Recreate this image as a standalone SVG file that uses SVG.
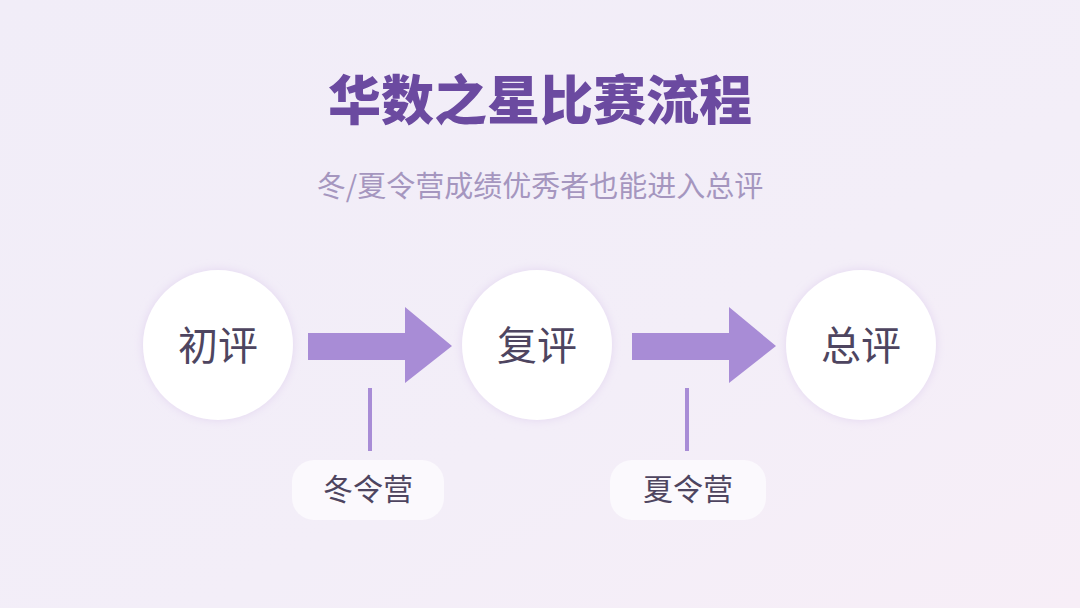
<svg xmlns="http://www.w3.org/2000/svg" width="1080" height="608" viewBox="0 0 1080 608">
<defs>
<linearGradient id="bg" x1="0" y1="0" x2="1" y2="1">
<stop offset="0" stop-color="#f1edf8"/><stop offset="0.6" stop-color="#f3eef8"/><stop offset="1" stop-color="#f7eef7"/>
</linearGradient>
<filter id="glow" x="-30%" y="-30%" width="160%" height="160%"><feGaussianBlur in="SourceAlpha" stdDeviation="6"/><feFlood flood-color="#e3d6f0"/><feComposite operator="in" in2="SourceAlpha"/><feGaussianBlur stdDeviation="5"/><feMerge><feMergeNode/><feMergeNode in="SourceGraphic"/></feMerge></filter>
<style>
.cjk{font-family:"Noto Sans CJK SC",sans-serif}
.circ{fill:#ffffff;filter:url(#glow)}
.ct{font-size:40px;fill:#4e4560;text-anchor:middle}
.pill{fill:#fbf9fd}
.pt{font-size:30px;fill:#4e4560;text-anchor:middle}
.arr{fill:#a88cd6}
.vl{stroke:#a88cd6;stroke-width:4}
</style>
</defs>
<rect width="1080" height="608" fill="url(#bg)"/>
<text x="540" y="120" class="cjk" font-size="53" font-weight="900" fill="#6b4aa0" text-anchor="middle">华数之星比赛流程</text>
<text x="540" y="197" class="cjk" font-size="29" fill="#a596bf" text-anchor="middle">冬/夏令营成绩优秀者也能进入总评</text>
<g id="connectors">
<polygon class="arr" points="308,333 405,333 405,307 452,346 405,383 405,360 308,360"/>
<polygon class="arr" points="632,333 729,333 729,307 776,346 729,383 729,360 632,360"/>
<line class="vl" x1="370" y1="388" x2="370" y2="451"/>
<line class="vl" x1="687" y1="388" x2="687" y2="451"/>
</g>
<g id="n1"><circle class="circ" cx="218" cy="345" r="75"/><text class="cjk ct" x="218" y="360">初评</text></g>
<g id="n2"><circle class="circ" cx="537" cy="345" r="75"/><text class="cjk ct" x="537" y="360">复评</text></g>
<g id="n3"><circle class="circ" cx="861" cy="345" r="75"/><text class="cjk ct" x="861" y="360">总评</text></g>
<g id="l1"><rect class="pill" x="292" y="460" width="152" height="60" rx="22"/><text class="cjk pt" x="368" y="500">冬令营</text></g>
<g id="l2"><rect class="pill" x="610" y="460" width="156" height="60" rx="22"/><text class="cjk pt" x="688" y="500">夏令营</text></g>
</svg>
